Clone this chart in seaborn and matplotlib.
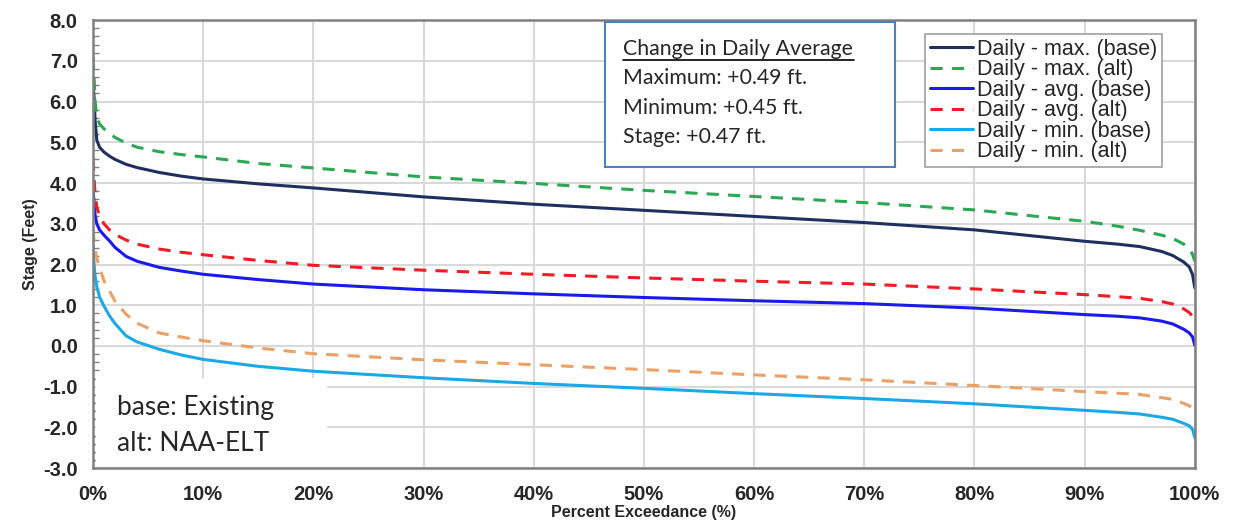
import numpy as np
import pandas as pd
import seaborn as sns
import matplotlib.pyplot as plt
from matplotlib.ticker import MultipleLocator, FuncFormatter
from matplotlib.patches import Rectangle

## Data (percent, stage in feet)
pct = [0, 0.1, 0.2, 0.35, 0.6, 1, 1.5, 2, 3, 4, 6, 8, 10, 15, 20, 30, 40, 50,
       60, 70, 80, 90, 93, 95, 97, 98, 99, 99.5, 99.8, 100]

max_base = [6.45, 6.1, 5.5, 5.05, 4.88, 4.76, 4.66, 4.58, 4.46, 4.38, 4.26, 4.17, 4.1, 3.98, 3.88,
            3.66, 3.48, 3.33, 3.18, 3.03, 2.85, 2.57, 2.5, 2.44, 2.32, 2.22, 2.06, 1.94, 1.75, 1.43]
max_alt = [7.1, 6.6, 6.0, 5.6, 5.45, 5.33, 5.22, 5.12, 4.98, 4.88, 4.77, 4.7, 4.64, 4.48, 4.37,
           4.15, 3.99, 3.82, 3.67, 3.52, 3.34, 3.06, 2.94, 2.84, 2.72, 2.64, 2.5, 2.39, 2.25, 2.08]
avg_base = [3.9, 3.5, 3.2, 3.0, 2.85, 2.72, 2.58, 2.42, 2.2, 2.08, 1.93, 1.84, 1.76, 1.63, 1.52,
            1.38, 1.28, 1.19, 1.11, 1.04, 0.93, 0.77, 0.73, 0.69, 0.61, 0.54, 0.41, 0.32, 0.22, 0.02]
avg_alt = [4.6, 4.1, 3.7, 3.4, 3.2, 3.0, 2.85, 2.74, 2.6, 2.5, 2.38, 2.3, 2.24, 2.1, 1.98,
           1.86, 1.76, 1.67, 1.59, 1.52, 1.4, 1.26, 1.21, 1.17, 1.09, 1.03, 0.91, 0.82, 0.73, 0.62]
min_base = [2.5, 2.0, 1.7, 1.45, 1.2, 0.98, 0.74, 0.55, 0.25, 0.1, -0.08, -0.22, -0.33, -0.5, -0.62,
            -0.78, -0.92, -1.04, -1.17, -1.29, -1.42, -1.58, -1.63, -1.67, -1.75, -1.8, -1.9, -1.96, -2.05, -2.25]
min_alt = [2.85, 2.6, 2.35, 2.15, 1.92, 1.6, 1.35, 1.1, 0.78, 0.56, 0.32, 0.22, 0.13, -0.05, -0.19,
           -0.34, -0.46, -0.58, -0.71, -0.83, -0.97, -1.12, -1.16, -1.19, -1.27, -1.31, -1.41, -1.47, -1.54, -1.62]

labels = ["Daily - max. (base)", "Daily - max. (alt)", "Daily - avg. (base)",
          "Daily - avg. (alt)", "Daily - min. (base)", "Daily - min. (alt)"]
series = [max_base, max_alt, avg_base, avg_alt, min_base, min_alt]
colors = ["#1f2f5f", "#2aa852", "#1a1aee", "#ee1c24", "#1aa9e6", "#eba065"]
dashed = [False, True, False, True, False, True]

df = pd.concat([pd.DataFrame({"pct": pct, "stage": s, "series": lab})
                for s, lab in zip(series, labels)])

sns.set_style("white")
plt.rcParams['font.family'] = ['Liberation Sans', 'DejaVu Sans']

fig = plt.figure(figsize=(12.33, 5.29), dpi=100)
ax = fig.add_axes([0.0754, 0.115, 0.8936, 0.847])

for lab, col, d in zip(labels, colors, dashed):
    sns.lineplot(data=df[df.series == lab], x="pct", y="stage", ax=ax,
                 color=col, lw=2.2, label=lab,
                 linestyle=(0, (4, 3)) if d else "-")

ax.set_xlim(0, 100)
ax.set_ylim(-3, 8)
ax.xaxis.set_major_locator(MultipleLocator(10))
ax.yaxis.set_major_locator(MultipleLocator(1))
ax.yaxis.set_minor_locator(MultipleLocator(0.2))
ax.xaxis.set_major_formatter(FuncFormatter(lambda v, p: f"{v:.0f}%"))
ax.yaxis.set_major_formatter(FuncFormatter(lambda v, p: f"{v:.1f}"))
ax.grid(True, which="major", color="#d9d9d9", lw=1.5)
ax.set_axisbelow(True)

for sp in ax.spines.values():
    sp.set_color("#808080")
    sp.set_linewidth(1.8)

ax.tick_params(axis="y", which="major", direction="out", length=7, width=1.2,
               color="#808080", labelsize=14.5, pad=4)
ax.tick_params(axis="y", which="minor", direction="in", length=4, width=1,
               color="#808080", left=True)
ax.tick_params(axis="x", which="major", length=0, labelsize=14.5, pad=12)
for t in ax.get_xticklabels() + ax.get_yticklabels():
    t.set_fontweight("bold")

ax.set_xlabel("Percent Exceedance (%)", fontsize=11.5, fontweight="bold", labelpad=1)
ax.set_ylabel("Stage (Feet)", fontsize=11.5, fontweight="bold", labelpad=4)

leg = ax.legend(loc="upper left", bbox_to_anchor=(0.7555, 0.9685), frameon=True,
                fancybox=False, edgecolor="#a0a0a0", fontsize=15.5,
                handlelength=2.0, handletextpad=0.2, labelspacing=-0.02,
                borderpad=0.2, borderaxespad=0)
leg.get_frame().set_linewidth(1.2)
leg.get_frame().set_alpha(1)

# annotation box
ax.add_patch(Rectangle((0.4646, 0.672), 0.2632, 0.3235, transform=ax.transAxes,
                       facecolor="white", edgecolor="#4f7fba", lw=1.5, zorder=5))
box_font = dict(family=['Lato', 'DejaVu Sans'], fontsize=15.3, transform=ax.transAxes,
                va="center", ha="left", zorder=6)
ax.text(0.4815, 0.935, "Change in Daily Average", **box_font)
ax.plot([0.4815, 0.6905], [0.911, 0.911], transform=ax.transAxes, color="black",
        lw=1.2, zorder=6)
ax.text(0.4815, 0.870, "Maximum: +0.49 ft.", **box_font)
ax.text(0.4815, 0.804, "Minimum: +0.45 ft.", **box_font)
ax.text(0.4815, 0.739, "Stage: +0.47 ft.", **box_font)

# base / alt note
ax.add_patch(Rectangle((0.003, 0.003), 0.2095, 0.198, transform=ax.transAxes,
                       facecolor="white", edgecolor="none", zorder=1.5))
note_font = dict(family=['Lato', 'DejaVu Sans'], fontsize=19, transform=ax.transAxes,
                 va="center", ha="left", zorder=6)
ax.text(0.0215, 0.136, "base: Existing", **note_font)
ax.text(0.0215, 0.055, "alt: NAA-ELT", **note_font)

fig.savefig("out.png", dpi=100)
